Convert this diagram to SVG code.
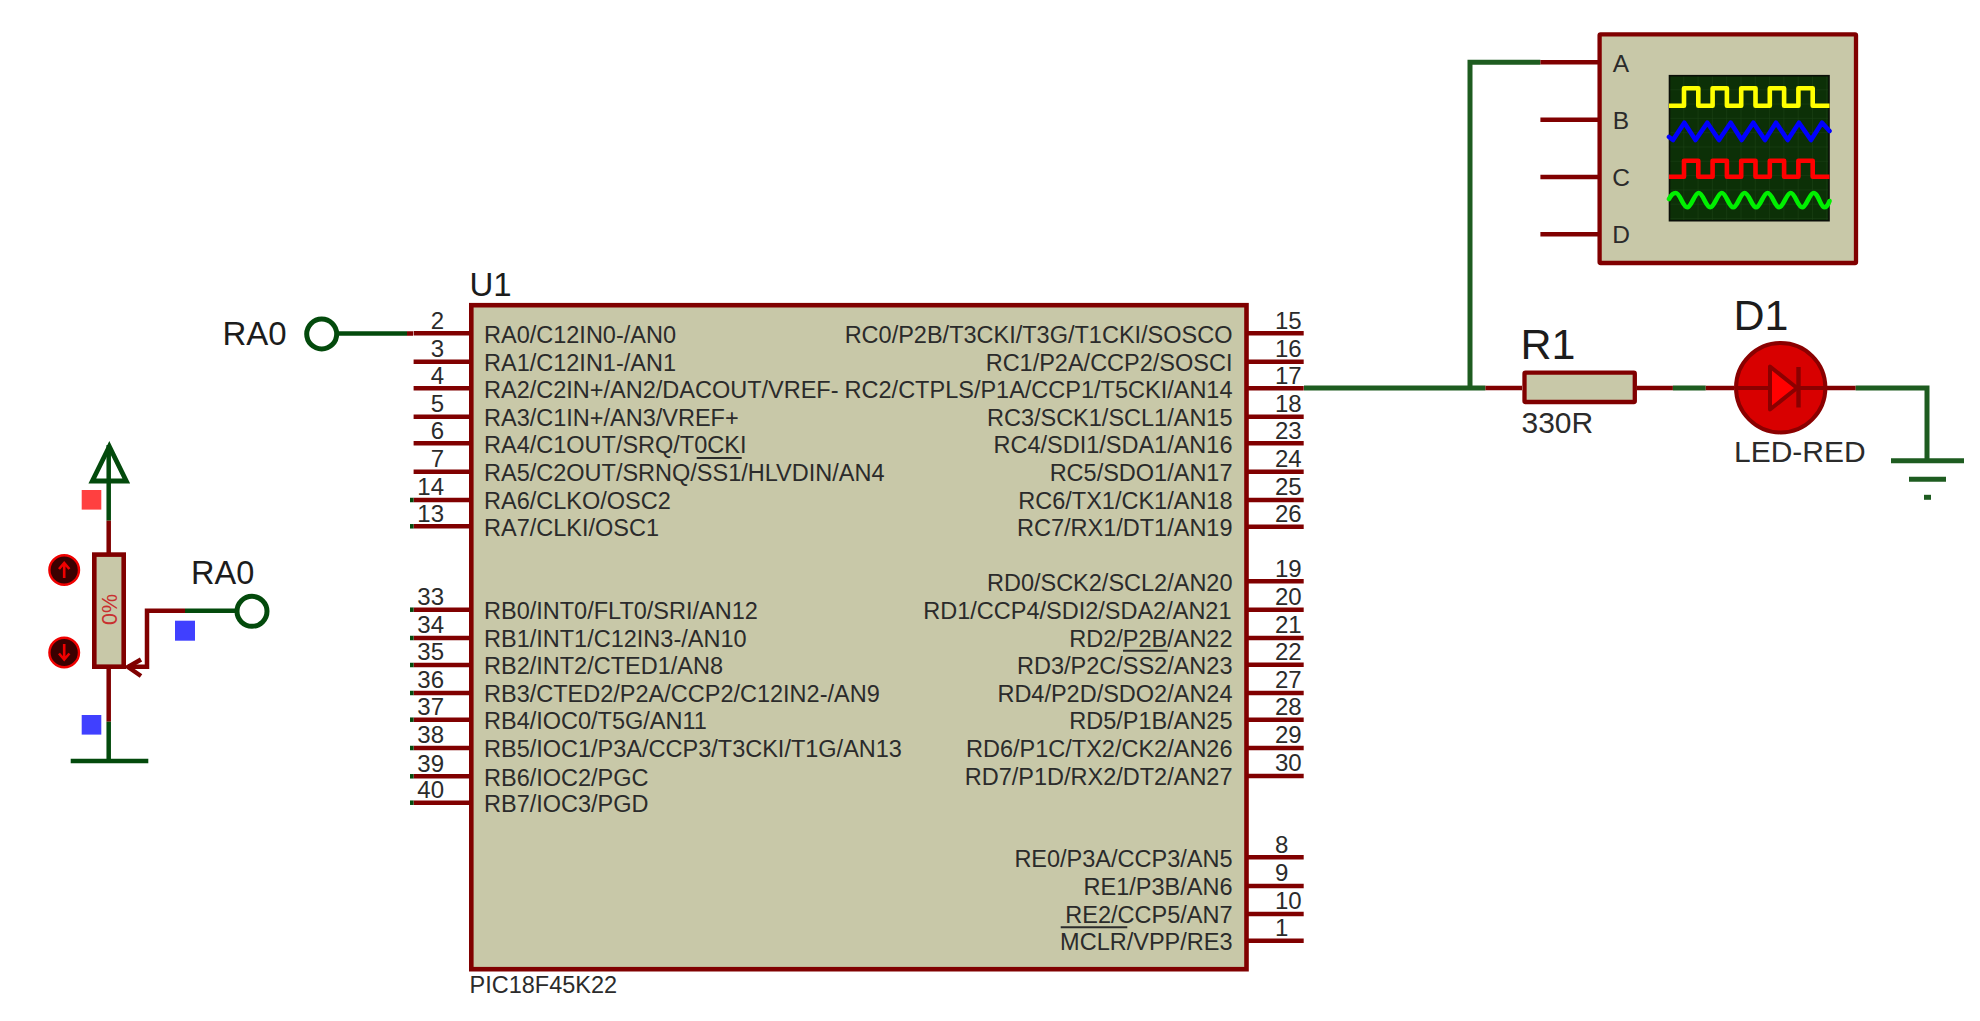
<svg xmlns="http://www.w3.org/2000/svg" width="1980" height="1021" viewBox="0 0 1980 1021">
<style>
text{font-family:"Liberation Sans",Arial,sans-serif;fill:#2b2b2b}
.lb{font-size:23.5px}
.r{text-anchor:end}
.n{font-size:24px}
.ne{font-size:24px;text-anchor:end}
.big{font-size:33px;fill:#1c1c1c}
.ref{font-size:43px;fill:#1c1c1c}
.val{font-size:30px}
.sc{font-size:24.5px;text-anchor:middle}
line,polyline,path.w{fill:none;stroke-linecap:butt}
.p{stroke:#800000;stroke-width:4.5}
.g{stroke:#034a0c;stroke-width:4.5}
.g2{stroke:#1e5c20;stroke-width:5}
.body{fill:#c8c8a8;stroke:#800000;stroke-width:4.6}
.bar{stroke:#2b2b2b;stroke-width:2}
.wave{fill:none;stroke-width:4.6;stroke-linejoin:round;stroke-linecap:round}
.btn{fill:#3a0000;stroke:#f00000;stroke-width:2.4}
.ba{fill:none;stroke:#f00000;stroke-width:2.6}
</style>
<defs>
<pattern id="grid" width="14.3" height="14.3" patternUnits="userSpaceOnUse" x="1669" y="75">
<rect width="14.3" height="14.3" fill="#0c3007"/>
<path d="M0 0H14.3M0 0V14.3" stroke="#1c4216" stroke-width="1" fill="none"/>
</pattern>
</defs>
<rect width="1980" height="1021" fill="#ffffff"/>

<g id="connectors">
<line class="g" x1="337" y1="333.5" x2="407" y2="333.5"/>
<line class="p" x1="407" y1="333.5" x2="413" y2="333.5"/>
<polyline class="p" points="128,666.7 147,666.7 147,610.7 185,610.7"/>
<line class="g" x1="185" y1="610.7" x2="238" y2="610.7"/>
<line class="g2" x1="1304" y1="388" x2="1485.4" y2="388"/>
<polyline class="g2" points="1470,388 1470,62.3 1540.4,62.3"/>
<line class="p" x1="1485.4" y1="388" x2="1522" y2="388"/>
<line class="p" x1="1637" y1="388" x2="1672.9" y2="388"/>
<line class="g2" x1="1672.9" y1="388" x2="1705.7" y2="388"/>
<line class="p" x1="1705.7" y1="388" x2="1734" y2="388"/>
<line class="p" x1="1827" y1="388" x2="1855.7" y2="388"/>
<polyline class="g2" points="1855.7,388 1927,388 1927,460"/>
</g>

<g id="U1">
<rect class="body" x="471.3" y="305.2" width="775.2" height="664"/>
<g class="pins-left">
<line class="p" x1="413.6" y1="333.3" x2="470" y2="333.3"/>
<line class="p" x1="413.6" y1="361.7" x2="470" y2="361.7"/>
<line class="p" x1="413.6" y1="388.3" x2="470" y2="388.3"/>
<line class="p" x1="413.6" y1="416.7" x2="470" y2="416.7"/>
<line class="p" x1="413.6" y1="443.3" x2="470" y2="443.3"/>
<line class="p" x1="413.6" y1="471.7" x2="470" y2="471.7"/>
<line class="p" x1="413.6" y1="500" x2="470" y2="500"/>
<line class="p" x1="413.6" y1="526.3" x2="470" y2="526.3"/>
<line class="p" x1="413.6" y1="609.7" x2="470" y2="609.7"/>
<line class="p" x1="413.6" y1="638" x2="470" y2="638"/>
<line class="p" x1="413.6" y1="665" x2="470" y2="665"/>
<line class="p" x1="413.6" y1="693" x2="470" y2="693"/>
<line class="p" x1="413.6" y1="719.7" x2="470" y2="719.7"/>
<line class="p" x1="413.6" y1="748" x2="470" y2="748"/>
<line class="p" x1="413.6" y1="776.3" x2="470" y2="776.3"/>
<line class="p" x1="413.6" y1="802.7" x2="470" y2="802.7"/>
<line class="g" x1="410" y1="500" x2="413.6" y2="500"/>
<line class="g" x1="410" y1="526.3" x2="413.6" y2="526.3"/>
<line class="g" x1="410" y1="609.7" x2="413.6" y2="609.7"/>
<line class="g" x1="410" y1="638" x2="413.6" y2="638"/>
<line class="g" x1="410" y1="665" x2="413.6" y2="665"/>
<line class="g" x1="410" y1="693" x2="413.6" y2="693"/>
<line class="g" x1="410" y1="719.7" x2="413.6" y2="719.7"/>
<line class="g" x1="410" y1="748" x2="413.6" y2="748"/>
<line class="g" x1="410" y1="776.3" x2="413.6" y2="776.3"/>
<line class="g" x1="410" y1="802.7" x2="413.6" y2="802.7"/>
</g>
<g class="pins-right">
<line class="p" x1="1248" y1="333.3" x2="1303.7" y2="333.3"/>
<line class="p" x1="1248" y1="361.7" x2="1303.7" y2="361.7"/>
<line class="p" x1="1248" y1="388.3" x2="1303.7" y2="388.3"/>
<line class="p" x1="1248" y1="416.7" x2="1303.7" y2="416.7"/>
<line class="p" x1="1248" y1="443.3" x2="1303.7" y2="443.3"/>
<line class="p" x1="1248" y1="471.7" x2="1303.7" y2="471.7"/>
<line class="p" x1="1248" y1="500" x2="1303.7" y2="500"/>
<line class="p" x1="1248" y1="526.7" x2="1303.7" y2="526.7"/>
<line class="p" x1="1248" y1="581.3" x2="1303.7" y2="581.3"/>
<line class="p" x1="1248" y1="609.7" x2="1303.7" y2="609.7"/>
<line class="p" x1="1248" y1="638" x2="1303.7" y2="638"/>
<line class="p" x1="1248" y1="664.7" x2="1303.7" y2="664.7"/>
<line class="p" x1="1248" y1="693" x2="1303.7" y2="693"/>
<line class="p" x1="1248" y1="719.7" x2="1303.7" y2="719.7"/>
<line class="p" x1="1248" y1="748" x2="1303.7" y2="748"/>
<line class="p" x1="1248" y1="776" x2="1303.7" y2="776"/>
<line class="p" x1="1248" y1="857.3" x2="1303.7" y2="857.3"/>
<line class="p" x1="1248" y1="886" x2="1303.7" y2="886"/>
<line class="p" x1="1248" y1="914" x2="1303.7" y2="914"/>
<line class="p" x1="1248" y1="940.7" x2="1303.7" y2="940.7"/>
</g>
<text x="469.5" y="296" style="font-size:33px;fill:#1c1c1c">U1</text>
<text x="469.5" y="992.7" class="lb">PIC18F45K22</text>
<g class="nums-left">
<text class="ne" x="444" y="328.7">2</text><text class="ne" x="444" y="357.1">3</text><text class="ne" x="444" y="383.7">4</text><text class="ne" x="444" y="412.1">5</text><text class="ne" x="444" y="438.7">6</text><text class="ne" x="444" y="467.1">7</text><text class="ne" x="444" y="495.4">14</text><text class="ne" x="444" y="521.7">13</text>
<text class="ne" x="444" y="605.1">33</text><text class="ne" x="444" y="633.4">34</text><text class="ne" x="444" y="660.4">35</text><text class="ne" x="444" y="688.4">36</text><text class="ne" x="444" y="715.1">37</text><text class="ne" x="444" y="743.4">38</text><text class="ne" x="444" y="771.7">39</text><text class="ne" x="444" y="798.1">40</text>
</g>
<g class="nums-right">
<text class="n" x="1275" y="328.7">15</text><text class="n" x="1275" y="357.1">16</text><text class="n" x="1275" y="383.7">17</text><text class="n" x="1275" y="412.1">18</text><text class="n" x="1275" y="438.7">23</text><text class="n" x="1275" y="467.1">24</text><text class="n" x="1275" y="495.4">25</text><text class="n" x="1275" y="522.1">26</text>
<text class="n" x="1275" y="576.7">19</text><text class="n" x="1275" y="605.1">20</text><text class="n" x="1275" y="633.4">21</text><text class="n" x="1275" y="660.1">22</text><text class="n" x="1275" y="688.4">27</text><text class="n" x="1275" y="715.1">28</text><text class="n" x="1275" y="743.4">29</text><text class="n" x="1275" y="771.4">30</text>
<text class="n" x="1275" y="852.7">8</text><text class="n" x="1275" y="881.4">9</text><text class="n" x="1275" y="909.4">10</text><text class="n" x="1275" y="936.1">1</text>
</g>
<g class="labels-left">
<text class="lb" x="484" y="342.5">RA0/C12IN0-/AN0</text>
<text class="lb" x="484" y="370.9">RA1/C12IN1-/AN1</text>
<text class="lb" x="484" y="397.5">RA2/C2IN+/AN2/DACOUT/VREF-</text>
<text class="lb" x="484" y="425.9">RA3/C1IN+/AN3/VREF+</text>
<text class="lb" x="484" y="452.5">RA4/C1OUT/SRQ/T0CKI</text>
<text class="lb" x="484" y="480.9">RA5/C2OUT/SRNQ/SS1/HLVDIN/AN4</text>
<text class="lb" x="484" y="509.2">RA6/CLKO/OSC2</text>
<text class="lb" x="484" y="535.5">RA7/CLKI/OSC1</text>
<text class="lb" x="484" y="618.9">RB0/INT0/FLT0/SRI/AN12</text>
<text class="lb" x="484" y="647.2">RB1/INT1/C12IN3-/AN10</text>
<text class="lb" x="484" y="674.2">RB2/INT2/CTED1/AN8</text>
<text class="lb" x="484" y="702.2">RB3/CTED2/P2A/CCP2/C12IN2-/AN9</text>
<text class="lb" x="484" y="728.9">RB4/IOC0/T5G/AN11</text>
<text class="lb" x="484" y="757.2">RB5/IOC1/P3A/CCP3/T3CKI/T1G/AN13</text>
<text class="lb" x="484" y="785.5">RB6/IOC2/PGC</text>
<text class="lb" x="484" y="811.9">RB7/IOC3/PGD</text>
</g>
<g class="labels-right">
<text class="lb r" x="1232.5" y="342.5">RC0/P2B/T3CKI/T3G/T1CKI/SOSCO</text>
<text class="lb r" x="1232.5" y="370.9">RC1/P2A/CCP2/SOSCI</text>
<text class="lb r" x="1232.5" y="397.5">RC2/CTPLS/P1A/CCP1/T5CKI/AN14</text>
<text class="lb r" x="1232.5" y="425.9">RC3/SCK1/SCL1/AN15</text>
<text class="lb r" x="1232.5" y="452.5">RC4/SDI1/SDA1/AN16</text>
<text class="lb r" x="1232.5" y="480.9">RC5/SDO1/AN17</text>
<text class="lb r" x="1232.5" y="509.2">RC6/TX1/CK1/AN18</text>
<text class="lb r" x="1232.5" y="535.9">RC7/RX1/DT1/AN19</text>
<text class="lb r" x="1232.5" y="590.5">RD0/SCK2/SCL2/AN20</text>
<text class="lb r" x="1231.5" y="618.9">RD1/CCP4/SDI2/SDA2/AN21</text>
<text class="lb r" x="1232.5" y="647.2">RD2/P2B/AN22</text>
<text class="lb r" x="1232.5" y="673.9">RD3/P2C/SS2/AN23</text>
<text class="lb r" x="1232.5" y="702.2">RD4/P2D/SDO2/AN24</text>
<text class="lb r" x="1232.5" y="728.9">RD5/P1B/AN25</text>
<text class="lb r" x="1232.5" y="757.2">RD6/P1C/TX2/CK2/AN26</text>
<text class="lb r" x="1232.5" y="785.2">RD7/P1D/RX2/DT2/AN27</text>
<text class="lb r" x="1232.5" y="866.5">RE0/P3A/CCP3/AN5</text>
<text class="lb r" x="1232.5" y="895.2">RE1/P3B/AN6</text>
<text class="lb r" x="1232.5" y="923.2">RE2/CCP5/AN7</text>
<text class="lb r" x="1232.5" y="949.9">MCLR/VPP/RE3</text>
</g>
<line class="bar" x1="696.7" y1="458" x2="741.7" y2="458"/>
<line class="bar" x1="1123" y1="650.7" x2="1167.7" y2="650.7"/>
<line class="bar" x1="1060.7" y1="927.3" x2="1127.3" y2="927.3"/>
</g>

<g id="terminal-RA0-input">
<circle cx="321.7" cy="334" r="15" fill="#ffffff" stroke="#034a0c" stroke-width="5"/>
<text class="big" x="222.5" y="344.5">RA0</text>
</g>

<g id="terminal-RA0-pot">
<circle cx="252" cy="611.3" r="15" fill="#ffffff" stroke="#034a0c" stroke-width="5"/>
<text class="big" x="191" y="584.3" style="font-size:32.5px">RA0</text>
</g>

<g id="RV1">
<line class="g" x1="108.7" y1="445" x2="108.7" y2="520.7"/>
<line class="p" x1="108.7" y1="520.7" x2="108.7" y2="553"/>
<line class="p" x1="108.7" y1="668" x2="108.7" y2="721.7"/>
<line class="g" x1="108.7" y1="721.7" x2="108.7" y2="761"/>
<polygon points="109.3,446.5 92.3,481 126.3,481" fill="none" stroke="#034a0c" stroke-width="4.8" stroke-linejoin="miter"/>
<line class="g" x1="70.7" y1="761" x2="148.3" y2="761"/>
<rect class="body" x="94.3" y="554.6" width="29.4" height="112.1"/>
<text transform="translate(116.7 625) rotate(-90)" style="font-size:21.5px;fill:#c83030">0%</text>
<polyline class="p" points="141,659.5 128,667 141,676"/>
<rect x="81.7" y="490" width="19.6" height="19.6" fill="#ff4040"/>
<rect x="81.7" y="715" width="19.6" height="19.6" fill="#4040ff"/>
<rect x="175" y="620.7" width="20" height="20" fill="#4040ff"/>
<circle class="btn" cx="64.2" cy="570" r="14.8"/>
<path class="ba" d="M64.2 578V563M59 569L64.2 563L69.4 569"/>
<circle class="btn" cx="64.2" cy="652.5" r="14.8"/>
<path class="ba" d="M64.2 644V659.5M59 653.5L64.2 659.5L69.4 653.5"/>
</g>

<g id="scope">
<line class="p" x1="1540.4" y1="62.3" x2="1598" y2="62.3"/>
<line class="p" x1="1540.4" y1="119.7" x2="1598" y2="119.7"/>
<line class="p" x1="1540.4" y1="177" x2="1598" y2="177"/>
<line class="p" x1="1540.4" y1="234.3" x2="1598" y2="234.3"/>
<rect x="1599.6" y="34.3" width="256.4" height="228.7" rx="1" class="body" style="stroke-width:4.3"/>
<text class="sc" x="1621" y="71.7">A</text>
<text class="sc" x="1621" y="129">B</text>
<text class="sc" x="1621" y="186">C</text>
<text class="sc" x="1621" y="242.7">D</text>
<rect x="1669.5" y="75.7" width="159.5" height="145" fill="url(#grid)" stroke="#0a0f08" stroke-width="1.6"/>
<polyline class="wave" stroke="#ffff00" points="1669,105.7 1684,105.7 1684,88.3 1698.3,88.3 1698.3,105.7 1712.6,105.7 1712.6,88.3 1726.9,88.3 1726.9,105.7 1741.2,105.7 1741.2,88.3 1755.5,88.3 1755.5,105.7 1769.8,105.7 1769.8,88.3 1784.1,88.3 1784.1,105.7 1798.4,105.7 1798.4,88.3 1812.7,88.3 1812.7,105.7 1829.5,105.7" style="stroke-linecap:butt"/>
<polyline class="wave" stroke="#0000ff" points="1669,137 1673,140 1684.3,122.7 1695.5,140 1707.3,122.7 1719,140 1730.7,122.7 1741.7,140 1753.3,122.7 1765,140 1776,122.7 1787.7,140 1799,122.7 1811,140 1822,122.7 1829.5,131"/>
<polyline class="wave" stroke="#ff0000" points="1669,176.7 1684,176.7 1684,160.7 1698.3,160.7 1698.3,176.7 1712.6,176.7 1712.6,160.7 1726.9,160.7 1726.9,176.7 1741.2,176.7 1741.2,160.7 1755.5,160.7 1755.5,176.7 1769.8,176.7 1769.8,160.7 1784.1,160.7 1784.1,176.7 1798.4,176.7 1798.4,160.7 1812.7,160.7 1812.7,176.7 1829.5,176.7" style="stroke-linecap:butt"/>
<path class="wave" stroke="#00f000" d="M1669 199C1671 195 1673 193 1675.7 193C1680 193 1683 207.3 1687.2 207.3C1691.4 207.3 1694.5 193 1698.7 193C1703 193 1706 207.3 1710.2 207.3C1714.4 207.3 1717.6 193 1721.8 193C1726 193 1729 207.3 1733.2 207.3C1737.4 207.3 1740.4 193 1744.6 193C1749 193 1752 207.3 1756.1 207.3C1760.3 207.3 1763.4 193 1767.6 193C1772 193 1775 207.3 1779.1 207.3C1783.3 207.3 1786.5 193 1790.7 193C1795 193 1798 207.3 1802.2 207.3C1806.4 207.3 1809.5 193 1813.7 193C1818 193 1821 207.3 1824 207.3C1826.5 207.3 1828.5 204 1829.5 201"/>
</g>

<g id="R1">
<rect x="1524.5" y="372.7" width="110.3" height="29.3" rx="1" class="body" style="stroke-width:4.3"/>
<text class="ref" x="1520.5" y="359.3">R1</text>
<text class="val" x="1521.5" y="433.3">330R</text>
</g>

<g id="D1">
<circle cx="1780.7" cy="387.7" r="44.7" fill="#d80000" stroke="#8a0000" stroke-width="4"/>
<line x1="1736" y1="388" x2="1825" y2="388" stroke="#8a0000" stroke-width="4"/>
<polygon points="1770,366.5 1770,409.5 1797,388" fill="#ff0000" stroke="#8a0000" stroke-width="4" stroke-linejoin="round"/>
<line x1="1798.5" y1="367" x2="1798.5" y2="407.5" stroke="#8a0000" stroke-width="4.4"/>
<text class="ref" x="1733.5" y="330">D1</text>
<text class="val" x="1734" y="461.7">LED-RED</text>
</g>

<g id="GND">
<g fill="none" stroke="#1e5c20" stroke-width="5" stroke-linecap="round">
<line x1="1891" y1="460.7" x2="1964" y2="460.7"/>
<line x1="1909" y1="479.3" x2="1946" y2="479.3"/>
<line x1="1924" y1="497.3" x2="1931" y2="497.3"/>
</g>
</g>
</svg>
